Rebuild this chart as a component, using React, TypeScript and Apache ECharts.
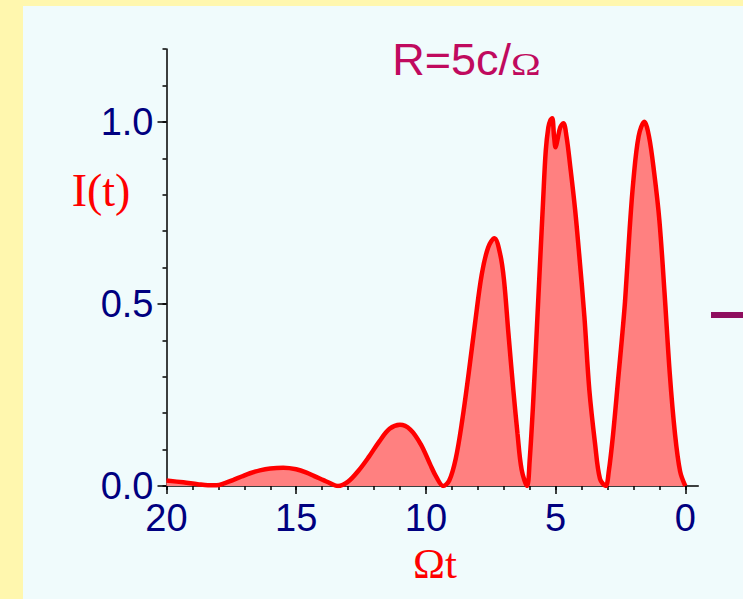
import React, { useEffect, useRef } from 'react';
import * as echarts from 'echarts';

// Ωt values (x) and intensity I(t) (y)
const omegaT = [
  0, 0.2, 0.4, 0.6, 0.8, 1.0, 1.2, 1.4, 1.58, 1.8, 2.0, 2.15, 2.32, 2.45, 2.58, 2.78, 2.95, 3.07,
  3.29, 3.48, 3.7, 3.89, 4.09, 4.25, 4.44, 4.58, 4.7, 4.82, 4.93, 5.0, 5.06, 5.13, 5.2, 5.28, 5.38, 5.48, 5.67, 5.86, 6.0, 6.1,
  6.31, 6.47, 6.63, 6.82, 6.99, 7.14, 7.36, 7.6, 7.85, 8.1, 8.35, 8.6, 8.85, 9.1, 9.33,
  9.6, 9.84, 10.2, 10.6, 11.0, 11.4, 11.8, 12.2, 12.6, 13.0, 13.39,
  13.7, 13.95, 14.3, 14.6, 15.0, 15.5, 16.0, 16.4, 16.78, 17.1, 17.42, 17.75, 18.07, 18.4, 18.8, 19.35, 20,
];
const intensity = [
  0, 0.04, 0.145, 0.31, 0.53, 0.73, 0.86, 0.96, 1.0, 0.96, 0.84, 0.7, 0.51, 0.4, 0.3, 0.145, 0.04, 0,
  0.02, 0.117, 0.264, 0.465, 0.635, 0.76, 0.88, 0.96, 0.996, 0.985, 0.95, 0.93, 0.96, 1.01, 1.005, 0.985, 0.92, 0.786, 0.51, 0.236, 0.07, 0,
  0.045, 0.145, 0.264, 0.42, 0.566, 0.638, 0.68, 0.655, 0.58, 0.45, 0.31, 0.18, 0.075, 0.015, 0,
  0.025, 0.06, 0.115, 0.155, 0.168, 0.157, 0.122, 0.08, 0.042, 0.012, 0,
  0.008, 0.016, 0.027, 0.037, 0.046, 0.05, 0.048, 0.043, 0.035, 0.026, 0.017, 0.008, 0.002, 0.002, 0.005, 0.01, 0.015,
];

const xTickLabels = [0, 5, 10, 15, 20];
const yTickLabels = [0, 0.5, 1.0];
const titleMain = 'R=5c/';
const titleOmega = 'Ω';
const yName = 'I(t)';
const xName = 'Ωt';

const SANS = '"Liberation Sans", Arial, sans-serif';
const SERIF = '"Liberation Serif", "Times New Roman", serif';
const NAVY = '#000080';

export default function App() {
  const ref = useRef<HTMLDivElement>(null);
  useEffect(() => {
    if (!ref.current) return;
    const chart = echarts.init(ref.current, undefined, { renderer: 'svg' });
    const data = omegaT.map((t, i) => [t, intensity[i]]);
    const gridLeft = 166.5;
    const gridRight = 57.7;
    const gridTop = 49;
    const gridBottom = 113;
    const axisBase = {
      type: 'value' as const,
      min: 0,
      max: 20,
      inverse: true,
      position: 'bottom' as const,
      splitLine: { show: false },
    };
    chart.setOption({
      animation: false,
      backgroundColor: '#FFF7AE',
      grid: { left: gridLeft, right: gridRight, top: gridTop, bottom: gridBottom, containLabel: false },
      xAxis: [
        {
          ...axisBase,
          interval: 1,
          axisLine: { show: true, onZero: false, lineStyle: { color: '#000', width: 1.5 } },
          axisTick: { show: true, length: 4, lineStyle: { color: '#000', width: 1.5 } },
          axisLabel: { show: false },
        },
        {
          ...axisBase,
          interval: 5,
          axisLine: { show: false, onZero: false },
          axisTick: { show: true, length: 8, lineStyle: { color: '#000', width: 1.5 } },
          axisLabel: {
            show: true,
            margin: 13,
            color: NAVY,
            fontSize: 38,
            fontFamily: SANS,
            formatter: (v: number) => (xTickLabels.includes(v) ? String(v) : ''),
          },
        },
      ],
      yAxis: [
        {
          type: 'value',
          min: 0,
          max: 1.2,
          interval: 0.1,
          position: 'left',
          splitLine: { show: false },
          axisLine: { show: true, onZero: false, lineStyle: { color: '#000', width: 1.5 } },
          axisTick: { show: true, length: 4, lineStyle: { color: '#000', width: 1.5 } },
          axisLabel: { show: false },
        },
        {
          type: 'value',
          min: 0,
          max: 1.2,
          interval: 0.5,
          position: 'left',
          splitLine: { show: false },
          axisLine: { show: false, onZero: false },
          axisTick: { show: true, length: 9, customValues: yTickLabels, lineStyle: { color: '#000', width: 1.5 } },
          axisLabel: {
            show: true,
            customValues: yTickLabels,
            margin: 13,
            color: NAVY,
            fontSize: 38,
            fontFamily: SANS,
            formatter: (v: number) => (v > 1.1 ? '' : v.toFixed(1)),
          },
        },
      ],
      series: [
        {
          type: 'line',
          xAxisIndex: 0,
          yAxisIndex: 0,
          data,
          smooth: 0.35,
          symbol: 'none',
          lineStyle: { color: '#FF0000', width: 4.5 },
          areaStyle: { color: '#FF8080', opacity: 1 },
          z: 3,
        },
      ],
      graphic: [
        { type: 'rect', z: -10, shape: { x: 23, y: 6, width: 720, height: 593 }, style: { fill: '#F0FBFC' } },
        {
          type: 'text', x: 511, y: 59,
          style: { text: titleMain, fill: '#C00A5E', font: `45px ${SANS}`, textAlign: 'right', textVerticalAlign: 'middle' },
        },
        {
          type: 'text', x: 511, y: 64, scaleX: 1.25,
          style: { text: titleOmega, fill: '#C00A5E', font: `32px ${SERIF}`, textAlign: 'left', textVerticalAlign: 'middle' },
        },
        {
          type: 'text', x: 101, y: 190,
          style: { text: yName, fill: '#FF0000', font: `46px ${SERIF}`, textAlign: 'center', textVerticalAlign: 'middle' },
        },
        {
          type: 'text', x: 435, y: 563,
          style: { text: xName, fill: '#FF0000', font: `43px ${SERIF}`, textAlign: 'center', textVerticalAlign: 'middle' },
        },
        { type: 'rect', shape: { x: 711, y: 312, width: 32, height: 6 }, style: { fill: '#8E0E5E' } },
      ],
    });
    // extend the x axis line a little beyond Ωt = 0, as in the reference
    const x0 = chart.convertToPixel({ xAxisIndex: 0 }, 0) as number;
    const y0 = chart.convertToPixel({ yAxisIndex: 0 }, 0) as number;
    chart.setOption({
      graphic: [
        {
          id: 'axisExt', type: 'line', shape: { x1: x0, y1: y0, x2: x0 + 13.5, y2: y0 },
          style: { stroke: '#000', lineWidth: 1.5 },
        },
      ],
    });
    return () => chart.dispose();
  }, []);
  return <div ref={ref} style={{ position: 'fixed', left: 0, top: 0, width: 743, height: 599 }} />;
}
